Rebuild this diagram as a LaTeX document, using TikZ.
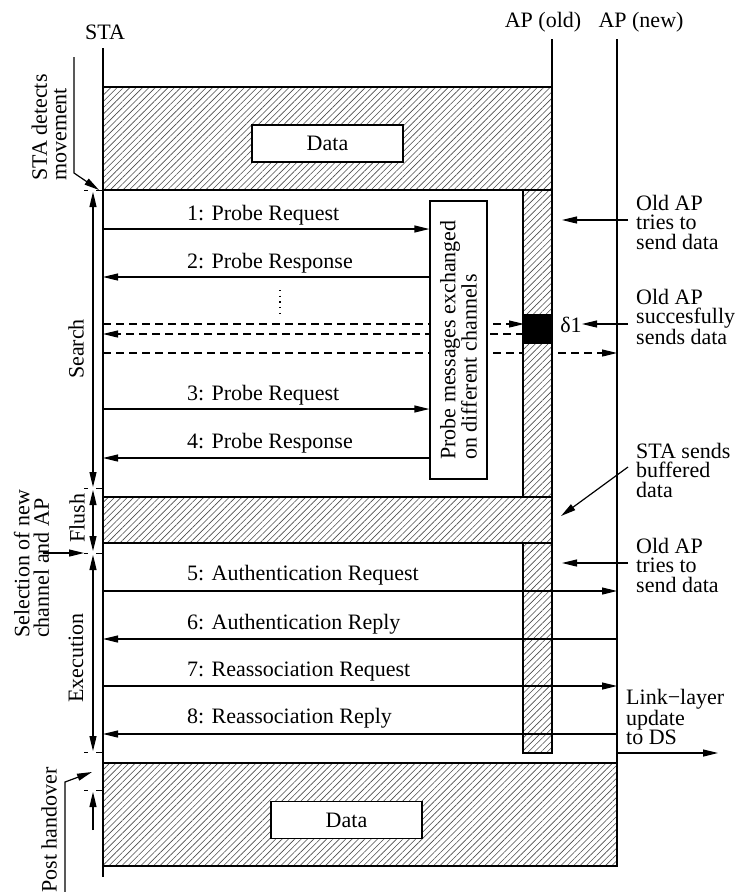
\documentclass[tikz,border=0pt]{standalone}
\usepackage{fontspec}
\setmainfont{Liberation Serif}
\usetikzlibrary{arrows.meta,patterns.meta}
\tikzset{
  life/.style={line width=1.2pt},
  tipa/.style={-{Triangle[length=15pt,width=7pt]}},
  msg/.style={line width=1.2pt,tipa},
  dmsg/.style={line width=1.2pt,tipa,dash pattern=on 8pt off 5pt},
  hatch/.style={draw,line width=1.2pt,preaction={fill=white},
    pattern={Lines[angle=45,distance=4.5pt,line width=0.6pt]},pattern color=black!70},
  lbl/.style={font=\fontsize{22}{19.5}\selectfont,inner sep=0pt},
  note/.style={lbl,align=left,anchor=west},
  rot/.style={lbl,rotate=90,align=left},
  databox/.style={draw,line width=1.2pt,fill=white,minimum width=151pt,minimum height=37pt,
    font=\fontsize{22}{24}\selectfont,inner sep=0pt},
  tick/.style={line width=1pt},
}
\begin{document}
\begin{tikzpicture}[x=1pt,y=-1pt]
\useasboundingbox (0,0) rectangle (736,892);
% lifelines
\node[lbl] (staL) at (105,32) {STA};
\node[lbl] (apoL) at (543,22) {AP (old)};
\node[lbl] (apnL) at (641,22) {AP (new)};
\coordinate (staT) at (103,48);  \coordinate (staB) at (103,877);
\coordinate (apoT) at (552,39);  \coordinate (apoB) at (552,753);
\coordinate (apnT) at (617,39);  \coordinate (apnB) at (617,866);
\draw[life] (staT) -- (staB);
\draw[life] (apoT) -- (apoB);
\draw[life] (apnT) -- (apnB);
% top data period
\draw[hatch] (103,87) rectangle (552,190);
\node[databox] (data1) at (327.5,143.5) {Data};
% dashed probes
\coordinate (d1s) at (103,324); \coordinate (d1e) at (524,324);
\coordinate (d2s) at (524,334); \coordinate (d2e) at (103,334);
\coordinate (d3s) at (103,353); \coordinate (d3e) at (617,353);
\draw[dmsg] (d1s) -- (d1e);
\draw[dmsg] (d2s) -- (d2e);
\draw[dmsg] (d3s) -- (d3e);
% probe box
\node[draw,line width=1.2pt,fill=white,rotate=90,minimum width=278pt,minimum height=57pt,
  align=left,font=\fontsize{22}{20}\selectfont,inner sep=0pt] (probe) at (458.5,340)
  {Probe messages exchanged\\on different channels};
% old AP column
\draw[hatch] (523,190) rectangle (552,753);
\fill (524,314) rectangle (552,344);
\coordinate (blk) at (552,324);
% flush
\draw[hatch] (103,497) rectangle (552,543);
% bottom data
\draw[hatch] (103,763) rectangle (617,866);
\node[databox] (data2) at (346.5,820) {Data};
% probe messages
\coordinate (m1s) at (103,229); \coordinate (m1e) at (probe.north |- m1s);
\coordinate (m2e) at (103,277); \coordinate (m2s) at (probe.north |- m2e);
\coordinate (m3s) at (103,409); \coordinate (m3e) at (probe.north |- m3s);
\coordinate (m4e) at (103,458); \coordinate (m4s) at (probe.north |- m4e);
\draw[msg] (m1s) -- (m1e);
\draw[msg] (m2s) -- (m2e);
\draw[msg] (m3s) -- (m3e);
\draw[msg] (m4s) -- (m4e);
\node[lbl,anchor=base west] (l1) at (187,220) {1: Probe Request};
\node[lbl,anchor=base west] (l2) at (187,268) {2: Probe Response};
\node[lbl,anchor=base west] (l3) at (187,400) {3: Probe Request};
\node[lbl,anchor=base west] (l4) at (187,448) {4: Probe Response};
\draw[line width=1.1pt,dash pattern=on 1.2pt off 4.5pt] (280,290) -- (280,315);
% execution messages
\coordinate (m5s) at (103,591); \coordinate (m5e) at (617,591);
\coordinate (m6s) at (617,639); \coordinate (m6e) at (103,639);
\coordinate (m7s) at (103,686); \coordinate (m7e) at (617,686);
\coordinate (m8s) at (617,734); \coordinate (m8e) at (103,734);
\draw[msg] (m5s) -- (m5e);
\draw[msg] (m6s) -- (m6e);
\draw[msg] (m7s) -- (m7e);
\draw[msg] (m8s) -- (m8e);
\node[lbl,anchor=base west] (l5) at (187,580) {5: Authentication Request};
\node[lbl,anchor=base west] (l6) at (187,629) {6: Authentication Reply};
\node[lbl,anchor=base west] (l7) at (187,676) {7: Reassociation Request};
\node[lbl,anchor=base west] (l8) at (187,723) {8: Reassociation Reply};
% link layer update
\coordinate (dsS) at (617,753); \coordinate (dsE) at (718,753);
\draw[msg] (dsS) -- (dsE);
\node[note] (ds) at (626,717) {Link−layer\\update\\to DS};
% right notes
\node[note] (n1) at (636,222) {Old AP\\tries to\\send data};
\coordinate (n1a) at (628,220); \coordinate (n1b) at (562,220);
\draw[msg] (n1a) -- (n1b);
\node[note] (n2) at (636,317) {Old AP\\succesfully\\sends data};
\coordinate (n2a) at (628,324); \coordinate (n2b) at (582,324);
\draw[msg] (n2a) -- (n2b);
\node[lbl] (delta) at (571,325) {δ1};
\node[note] (n3) at (636,470) {STA sends\\buffered\\data};
\coordinate (n3a) at (628,467); \coordinate (n3b) at (561,516);
\draw[msg] (n3a) -- (n3b);
\node[note] (n4) at (636,565) {Old AP\\tries to\\send data};
\coordinate (n4a) at (628,563); \coordinate (n4b) at (562,563);
\draw[msg] (n4a) -- (n4b);
% left phase arrows
\coordinate (p0) at (93,192); \coordinate (p1) at (93,487);
\coordinate (p2) at (93,490); \coordinate (p3) at (93,551);
\coordinate (p4) at (93,555); \coordinate (p5) at (93,751);
\coordinate (p6) at (93,830); \coordinate (p7) at (93,792);
\draw[life,{Triangle[length=15pt,width=7pt]}-{Triangle[length=15pt,width=7pt]}] (p0) -- (p1);
\draw[life,{Triangle[length=15pt,width=7pt]}-{Triangle[length=15pt,width=7pt]}] (p2) -- (p3);
\draw[life,{Triangle[length=15pt,width=7pt]}-{Triangle[length=15pt,width=7pt]}] (p4) -- (p5);
\draw[msg] (p6) -- (p7);
\foreach \yy in {190,488,553,752,790}{
  \draw[tick] (96,\yy) -- (103,\yy);
  \draw[tick] (84,\yy) -- (88,\yy);
}
\node[rot] (search) at (76,349) {Search};
\node[rot] (flush) at (77,518) {Flush};
\node[rot] (exec) at (76,658) {Execution};
% left notes
\node[rot,anchor=west] (detect) at (49,181) {STA detects\\movement};
\coordinate (dt1) at (74,57); \coordinate (dt2) at (74,173); \coordinate (dt3) at (99,190);
\draw[msg] (dt1) -- (dt2) -- (dt3);
\node[rot,anchor=west] (select) at (31.5,638) {Selection of new\\channel and AP};
\coordinate (se1) at (43,553); \coordinate (se2) at (84,553);
\draw[msg] (se1) -- (se2);
\node[rot,anchor=east] (post) at (49,767) {Post handover};
\coordinate (ph1) at (65,892); \coordinate (ph2) at (65,782); \coordinate (ph3) at (92,772);
\draw[msg] (ph1) -- (ph2) -- (ph3);
\end{tikzpicture}
\end{document}
